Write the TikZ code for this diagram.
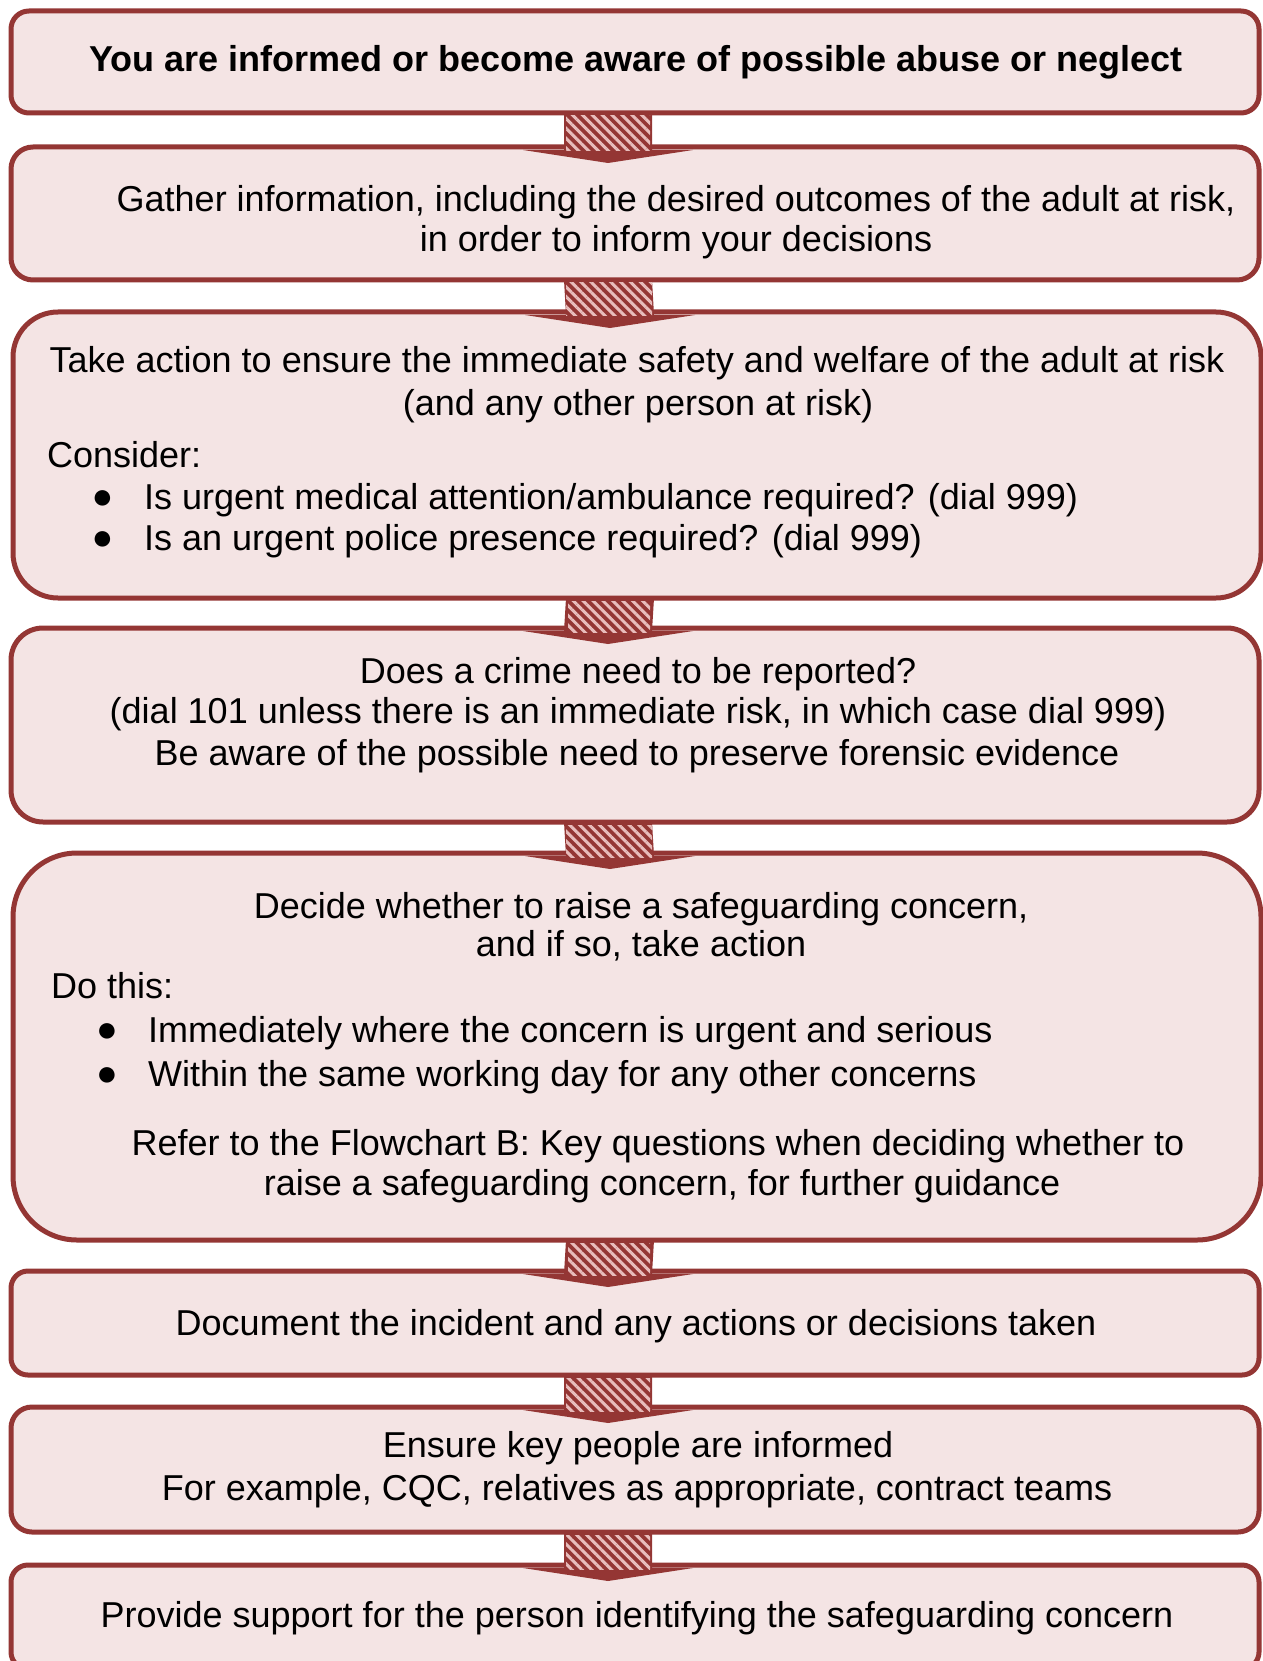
\documentclass[tikz,border=0pt]{standalone}
\usepackage{fontspec}
\setmainfont{Liberation Sans}
\usetikzlibrary{patterns.meta,calc}
\definecolor{dred}{HTML}{943634}
\definecolor{boxfill}{HTML}{F4E4E4}
\definecolor{stripe}{HTML}{E8BDBC}
\tikzset{
  box/.style={draw=dred, fill=boxfill, line width=5pt, minimum width=1248pt, inner sep=0pt, outer sep=0pt},
  txt/.style={anchor=base, inner sep=0pt, font=\fontsize{36}{41}\selectfont},
  ltxt/.style={txt, anchor=base west},
  btxt/.style={txt, font=\fontsize{36}{41}\selectfont\bfseries},
  bul/.style={anchor=center, inner sep=0pt, font=\fontsize{36}{36}\selectfont},
}
\newcommand\hatcharrow[2]{%
  \fill[dred] ($(#1.south)+(-71,0)$) -- ($(#1.south)+(17,0)$) -- ($(#2.north)+(17,3)$) -- ($(#2.north)+(58,3)$) -- ($(#2.north)+(-27,16)$) -- ($(#2.north)+(-112,3)$) -- ($(#2.north)+(-71,3)$) -- cycle;
  \fill[pattern={Lines[angle=-45,distance=7pt,line width=3pt]}, pattern color=stripe] ($(#1.south)+(-69,3)$) rectangle ($(#2.north)+(15,4)$);
}
\begin{document}
\begin{tikzpicture}[x=1pt,y=-1pt]
\useasboundingbox (0,0) rectangle (1262,1661);
% boxes
\node[box, minimum height=102pt, rounded corners=18pt] (b1) at (635,62) {};
\node[box, minimum height=133pt, rounded corners=22pt] (b2) at (635,213.5) {};
\node[box, minimum height=286pt, rounded corners=45pt] (b3) at (637,455) {};
\node[box, minimum height=194pt, rounded corners=32pt] (b4) at (635,725) {};
\node[box, minimum height=387pt, rounded corners=64pt] (b5) at (637,1046.5) {};
\node[box, minimum height=104pt, rounded corners=17pt] (b6) at (635,1323) {};
\node[box, minimum height=125pt, rounded corners=21pt] (b7) at (635,1469.5) {};
\node[box, minimum height=104pt, rounded corners=17pt] (b8) at (635,1617) {};
% arrows
\hatcharrow{b1}{b2}
\hatcharrow{b2}{b3}
\hatcharrow{b3}{b4}
\hatcharrow{b4}{b5}
\hatcharrow{b5}{b6}
\hatcharrow{b6}{b7}
\hatcharrow{b7}{b8}
% texts
\node[btxt] (t1) at (636,72) {You are informed or become aware of possible abuse or neglect};
\node[txt] (t2a) at (676,212) {Gather information, including the desired outcomes of the adult at risk,};
\node[txt] (t2b) at (676,252) {in order to inform your decisions};
\node[txt] (t3a) at (637,372) {Take action to ensure the immediate safety and welfare of the adult at risk};
\node[txt] (t3b) at (638,415) {(and any other person at risk)};
\node[ltxt] (t3c) at (47,467) {Consider:};
\node[bul] (t3d) at (102.5,500) {●};
\node[ltxt] (t3e) at (144,509) {Is urgent medical attention/ambulance required? (dial 999)};
\node[bul] (t3f) at (102.5,541) {●};
\node[ltxt] (t3g) at (144,550) {Is an urgent police presence required? (dial 999)};
\node[txt] (t4a) at (638,683) {Does a crime need to be reported?};
\node[txt] (t4b) at (638,723) {(dial 101 unless there is an immediate risk, in which case dial 999)};
\node[txt] (t4c) at (637,765) {Be aware of the possible need to preserve forensic evidence};
\node[txt] (t5a) at (641,918) {Decide whether to raise a safeguarding concern,};
\node[txt] (t5b) at (641,956) {and if so, take action};
\node[ltxt] (t5c) at (51,998) {Do this:};
\node[bul] (t5d) at (107,1033) {●};
\node[ltxt] (t5e) at (148,1042) {Immediately where the concern is urgent and serious};
\node[bul] (t5f) at (107,1077) {●};
\node[ltxt] (t5g) at (148,1086) {Within the same working day for any other concerns};
\node[txt] (t5h) at (658,1155) {Refer to the Flowchart B: Key questions when deciding whether to};
\node[txt] (t5i) at (662,1195) {raise a safeguarding concern, for further guidance};
\node[txt] (t6) at (636,1335) {Document the incident and any actions or decisions taken};
\node[txt] (t7a) at (638,1457) {Ensure key people are informed};
\node[txt] (t7b) at (637,1500) {For example, CQC, relatives as appropriate, contract teams};
\node[txt] (t8) at (637,1627) {Provide support for the person identifying the safeguarding concern};
\end{tikzpicture}
\end{document}
